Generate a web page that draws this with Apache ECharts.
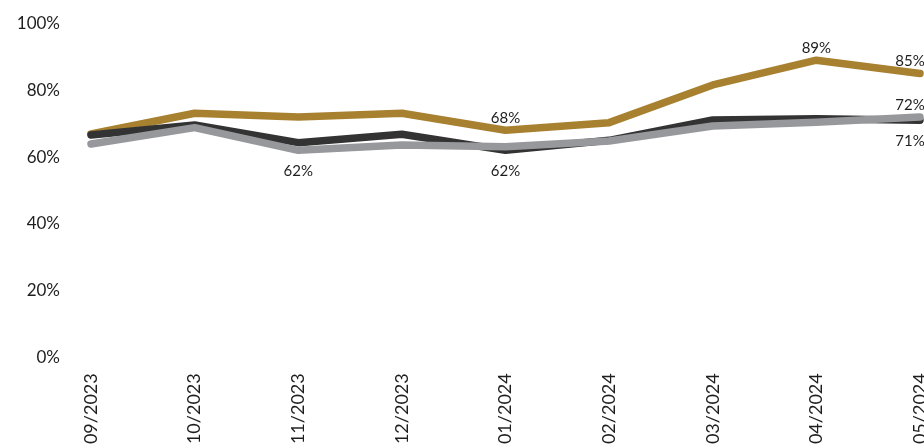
<!DOCTYPE html>
<html>
<head>
<meta charset="utf-8">
<script src="https://cdn.jsdelivr.net/npm/echarts@6/dist/echarts.min.js"></script>
<style>
  html, body { margin: 0; padding: 0; background: #ffffff; }
  #chart { width: 924px; height: 446px; }
</style>
</head>
<body>
<div id="chart"></div>
<script>
// Monthly rates, Sep 2023 – May 2024 (percent)
const categories = ['09/2023', '10/2023', '11/2023', '12/2023', '01/2024', '02/2024', '03/2024', '04/2024', '05/2024'];
const goldValues = [66.9, 73.1, 72.0, 73.1, 68, 70.3, 81.6, 89, 85];
const darkValues = [66.6, 69.6, 64.3, 66.8, 62, 65.0, 71.1, 71.5, 71];
const greyValues = [63.9, 68.8, 62, 63.6, 63.1, 64.8, 69.3, 70.4, 72];
const yTickValues = [0, 20, 40, 60, 80, 100];

// Which points carry a value label, and where it sits
const goldLabelled = { 4: 'top', 7: 'top', 8: 'top' };
const darkLabelled = { 4: 'bottom', 8: 'bottom' };
const greyLabelled = { 2: 'bottom', 8: 'top' };

const FONT = 'Lato, "Open Sans", sans-serif';
const lastIndex = categories.length - 1;

function buildData(values, labelled) {
  return values.map(function (v, i) {
    const pos = labelled[i];
    if (!pos) return v;
    return {
      value: v,
      label: {
        show: true,
        position: pos,
        distance: pos === 'top' ? 4 : 13,
        offset: i === lastIndex ? [-10, 0] : [0, 0]
      }
    };
  });
}

function lineSeries(name, values, labelled, color, z) {
  return {
    name: name,
    type: 'line',
    z: z,
    data: buildData(values, labelled),
    symbol: 'circle',
    symbolSize: 1,
    showSymbol: true,
    itemStyle: { color: color },
    lineStyle: { color: color, width: 7.5, cap: 'round', join: 'round' },
    label: {
      show: false,
      formatter: function (p) { return Math.round(p.value) + '%'; },
      fontFamily: FONT,
      fontSize: 15,
      color: '#1e1e1e'
    },
    emphasis: { disabled: true }
  };
}

const chart = echarts.init(document.getElementById('chart'), null, { renderer: 'canvas' });
chart.setOption({
  animation: false,
  grid: {
    left: 91, right: 4, top: 23.5, bottom: 88.7,
    containLabel: false,
    outerBoundsMode: 'none'
  },
  xAxis: {
    type: 'category',
    data: categories,
    boundaryGap: false,
    axisLine: { show: false },
    axisTick: { show: false },
    axisLabel: {
      rotate: 90,
      margin: 16,
      interval: 0,
      hideOverlap: false,
      fontFamily: FONT,
      fontSize: 18,
      color: '#1e1e1e'
    }
  },
  yAxis: {
    type: 'value',
    min: yTickValues[0],
    max: yTickValues[yTickValues.length - 1],
    interval: yTickValues[1] - yTickValues[0],
    splitLine: { show: false },
    axisLine: { show: false },
    axisTick: { show: false },
    axisLabel: {
      margin: 31,
      fontFamily: FONT,
      fontSize: 17,
      color: '#1e1e1e',
      formatter: function (v) { return v + '%'; }
    }
  },
  series: [
    lineSeries('Gold', goldValues, goldLabelled, '#A88130', 2),
    lineSeries('Dark', darkValues, darkLabelled, '#333333', 3),
    lineSeries('Grey', greyValues, greyLabelled, '#97989C', 4)
  ]
});
</script>
</body>
</html>
